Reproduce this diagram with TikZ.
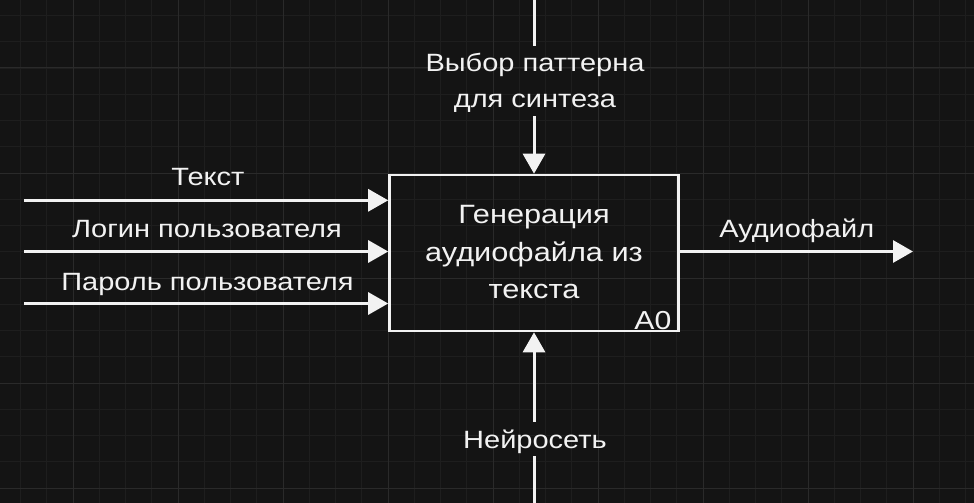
\documentclass[tikz,border=0pt]{standalone}
\usepackage{fontspec}
\setmainfont{Liberation Sans}[FakeStretch=1.16]
\usetikzlibrary{arrows.meta}
\definecolor{bg}{HTML}{141414}
\definecolor{gminor}{HTML}{1E1E1E}
\definecolor{gmajor}{HTML}{2A2A2A}
\definecolor{fg}{HTML}{F2F2F2}
\tikzset{
  minorline/.style={draw=gminor, line width=0.8pt},
  majorline/.style={draw=gmajor, line width=1pt},
  wire/.style={draw=fg, line width=3pt},
  arr/.style={wire, -{Triangle[length=20pt,width=22pt]}},
  lbl/.style={text=fg, font=\fontsize{25}{35.5}\selectfont, inner sep=0pt, align=center},
  funcbox/.style={draw=fg, line width=2.6pt, minimum width=289pt, minimum height=156pt,
    text=fg, font=\fontsize{26.5}{37.5}\selectfont, align=center, inner sep=0pt,
    text height=91pt, text depth=0pt},
}
\begin{document}
\begin{tikzpicture}[x=1pt,y=-1pt]
\fill[bg] (0,0) rectangle (974,503);
\useasboundingbox (0,0) rectangle (974,503);
\foreach \i in {0,...,37} \draw[minorline] ({20.5+26.25*\i},0) -- ++(0,503);
\foreach \i in {0,...,19} \draw[minorline] (0,{15.5+26.25*\i}) -- ++(974,0);
\foreach \i in {0,...,9} \draw[majorline] ({73+105*\i},0) -- ++(0,503);
\foreach \i in {0,...,4} \draw[majorline] (0,{68+105*\i}) -- ++(974,0);

\node[funcbox] (box) at (534,253) {Генерация\\аудиофайла из\\текста};
\node[text=fg, font=\fontsize{26}{30}\selectfont, inner sep=0pt, anchor=base east] (a0) at (671.5,329.5) {A0};

% inputs
\coordinate (in1) at (24,200.3);
\coordinate (in2) at (24,251.5);
\coordinate (in3) at (24,303.5);
\draw[arr] (in1) -- (box.west |- in1);
\draw[arr] (in2) -- (box.west |- in2);
\draw[arr] (in3) -- (box.west |- in3);
\node[lbl, anchor=base] (t1) at (208,185) {Текст};
\node[lbl, anchor=base] (t2) at (207,237.3) {Логин пользователя};
\node[lbl, anchor=base] (t3) at (207.5,290) {Пароль пользователя};

% output
\coordinate (out) at (913,251.5);
\draw[arr] (box.east |- out) -- (out);
\node[lbl, anchor=base] (to) at (796.7,237) {Аудиофайл};

% control
\coordinate (c0) at (534,0);
\coordinate (c1) at (534,46);
\coordinate (c2) at (534,116);
\draw[wire] (c0) -- (c1);
\draw[arr] (c2) -- (box.north -| c2);
\node[lbl, anchor=south, text depth=0pt] (tc) at (535,107.3) {Выбор паттерна\\для синтеза};

% mechanism
\coordinate (m0) at (534,503);
\coordinate (m1) at (534,456);
\coordinate (m2) at (534,421.7);
\draw[wire] (m0) -- (m1);
\draw[arr] (m2) -- (box.south -| m2);
\node[lbl, anchor=base] (tm) at (535,448) {Нейросеть};
\end{tikzpicture}
\end{document}
